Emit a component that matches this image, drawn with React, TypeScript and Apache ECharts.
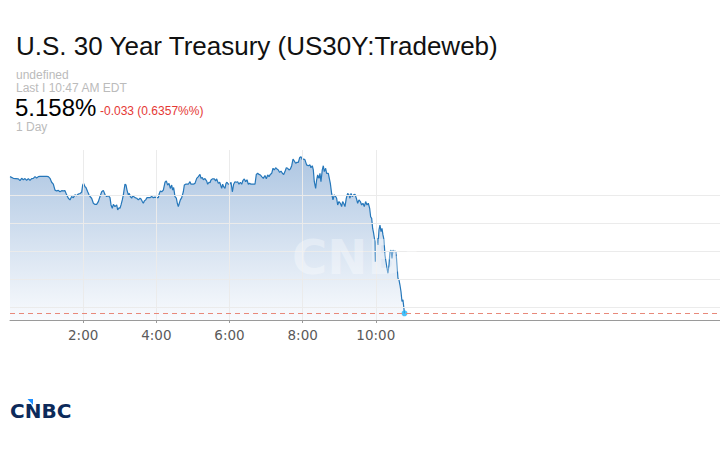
import React, { useEffect, useRef } from "react";
import * as echarts from "echarts";

// minutes since 0:00 (x) and 30Y yield in % (y)
const minutes = [
  0, 5.5, 13.7, 16.4, 19.1, 21.9, 24.6, 27.3, 30.1, 32.8, 35.5, 38.3, 41, 43.7, 46.5, 49.2, 54.7, 60.1, 62.9, 65.6,
  68.3, 71.1, 73.8, 76.5, 79.3, 82, 84.7, 87.5, 90.2, 92.9, 95.7, 98.4, 101.1, 103.9, 106.6, 109.3, 112.1, 114.8, 117.5, 119.2,
  120.8, 123, 124.6, 127.4, 129.6, 131.2, 133.9, 136.7, 139.4, 142.1, 144.9, 147.6, 150.4, 153.1, 155.8, 158.6, 161.3, 164.0, 165.7, 167.8,
  169.5, 172.2, 175.0, 176.6, 178.8, 180.4, 182.1, 184.2, 185.9, 187.5, 188.6, 190.3, 191.9, 194.1, 195.7, 197.4, 199.6, 201.2, 202.8, 205.0,
  207.8, 210.5, 213.2, 214.9, 217.0, 218.7, 220.3, 222.5, 224.7, 226.9, 229.6, 232.4, 235.1, 237.8, 240.6, 243.3, 244.9, 246.6, 248.8, 251.5,
  254.2, 256.4, 258.6, 260.8, 263.0, 265.2, 266.8, 268.4, 270.6, 272.8, 274.4, 276.1, 277.7, 279.4, 281.6, 284.3, 285.9, 288.1, 292.5, 295.2,
  296.9, 300.7, 303.4, 306.2, 308.9, 311.6, 313.3, 315.4, 317.1, 319.8, 322.6, 324.2, 326.4, 328.0, 329.7, 331.9, 335.1, 337.3, 339.0, 341.7,
  343.9, 345.5, 347.2, 348.8, 350.4, 352.6, 354.3, 355.9, 358.1, 360.3, 362.5, 364.7, 366.8, 369.0, 371.2, 373.4, 375.6, 377.8, 380.0, 382.2,
  384.3, 386.5, 388.7, 390.9, 393.1, 395.3, 397.5, 401.8, 404.0, 406.2, 408.4, 410.6, 412.8, 415.5, 418.2, 420.4, 422.6, 424.8, 427.0, 429.2,
  431.4, 433.5, 435.7, 437.9, 440.1, 442.3, 444.5, 446.7, 448.9, 451.0, 453.2, 455.4, 457.6, 459.8, 462.0, 464.2, 466.3, 468.5, 470.7, 472.9,
  475.1, 477.3, 479.5, 481.7, 483.8, 486.5, 489.3, 492.0, 493.6, 495.8, 497.5, 499.1, 501.3, 502.9, 504.6, 506.8, 508.4, 510.0, 512.2, 513.9,
  515.5, 517.7, 519.3, 522.1, 523.7, 525.4, 527.5, 529.7, 531.9, 534.1, 535.7, 537.4, 539.6, 541.8, 543.9, 545.6, 547.2, 549.4, 551.6, 553.8,
  556.0, 557.6, 559.3, 561.4, 563.6, 565.8, 568.0, 570.2, 572.4, 574.6, 576.7, 578.9, 581.1, 583.3, 585.5, 587.7, 589.9, 591.5, 593.2, 594.8,
  596.4, 598.1, 599.2, 600.3, 601.9, 603.6, 605.2, 606.8, 608.5, 610.1, 611.7, 613.4, 615.0, 616.7, 618.3, 619.9, 621.6, 623.2, 624.9, 626.5,
  628.1, 629.8, 631.4, 633.1, 634.7, 636.3, 638.0, 639.6, 641.3, 642.9, 644.5, 647,
];

const yields = [
  5.2068, 5.2062, 5.2060, 5.2054, 5.2062, 5.2057, 5.2061, 5.2055, 5.2061, 5.2055, 5.2061, 5.2062, 5.2068, 5.2063, 5.2068, 5.2069, 5.2069, 5.2069, 5.2068, 5.2062,
  5.2048, 5.2041, 5.2020, 5.2017, 5.2019, 5.2014, 5.2018, 5.2017, 5.2018, 5.2003, 5.1991, 5.1985, 5.1997, 5.1993, 5.2003, 5.2000, 5.2006, 5.2008, 5.2012, 5.2038,
  5.2044, 5.2032, 5.2029, 5.2014, 5.2003, 5.1997, 5.1991, 5.1973, 5.1969, 5.1969, 5.1979, 5.1997, 5.2014, 5.2019, 5.2004, 5.1997, 5.2000, 5.1993, 5.1967, 5.1955,
  5.1969, 5.1961, 5.1967, 5.1949, 5.1957, 5.1955, 5.1967, 5.1985, 5.2003, 5.2026, 5.2041, 5.2038, 5.2020, 5.2003, 5.2008, 5.1997, 5.1991, 5.2000, 5.1997, 5.1993,
  5.1991, 5.1985, 5.1991, 5.1988, 5.1979, 5.1973, 5.1981, 5.1985, 5.1993, 5.1993, 5.1993, 5.1997, 5.1993, 5.1995, 5.1993, 5.1993, 5.2008, 5.2017, 5.2014, 5.2020,
  5.2048, 5.2053, 5.2038, 5.2044, 5.2026, 5.2038, 5.2020, 5.2029, 5.1997, 5.1991, 5.1973, 5.1961, 5.1973, 5.1985, 5.1993, 5.2014, 5.2038, 5.2041, 5.2041, 5.2050,
  5.2041, 5.2041, 5.2044, 5.2062, 5.2068, 5.2076, 5.2062, 5.2065, 5.2057, 5.2061, 5.2052, 5.2041, 5.2048, 5.2046, 5.2056, 5.2060, 5.2060, 5.2053, 5.2060, 5.2044,
  5.2048, 5.2038, 5.2026, 5.2041, 5.2032, 5.2026, 5.2044, 5.2048, 5.2041, 5.2041, 5.2048, 5.2014, 5.2041, 5.2050, 5.2048, 5.2050, 5.2041, 5.2048, 5.2041, 5.2055,
  5.2060, 5.2050, 5.2057, 5.2041, 5.2044, 5.2041, 5.2041, 5.2041, 5.2076, 5.2080, 5.2076, 5.2074, 5.2068, 5.2062, 5.2072, 5.2060, 5.2074, 5.2068, 5.2076, 5.2080,
  5.2098, 5.2092, 5.2100, 5.2095, 5.2092, 5.2083, 5.2088, 5.2080, 5.2076, 5.2086, 5.2100, 5.2098, 5.2092, 5.2095, 5.2107, 5.2131, 5.2124, 5.2116, 5.2119, 5.2119,
  5.2136, 5.2139, 5.2128, 5.2131, 5.2128, 5.2110, 5.2107, 5.2110, 5.2100, 5.2107, 5.2092, 5.2050, 5.2026, 5.2056, 5.2074, 5.2062, 5.2080, 5.2050, 5.2092, 5.2107,
  5.2086, 5.2098, 5.2080, 5.2080, 5.2062, 5.2044, 5.2008, 5.1985, 5.2003, 5.1997, 5.1991, 5.1967, 5.1979, 5.1973, 5.1961, 5.1979, 5.1973, 5.1961, 5.1991, 5.2008,
  5.2003, 5.1991, 5.2008, 5.1997, 5.2003, 5.2005, 5.1991, 5.1973, 5.1985, 5.1979, 5.1967, 5.1973, 5.1961, 5.1979, 5.1967, 5.1973, 5.1955, 5.1925, 5.1919, 5.1883,
  5.1866, 5.1842, 5.1764, 5.1836, 5.1848, 5.1824, 5.1878, 5.1895, 5.1872, 5.1883, 5.1860, 5.1842, 5.1788, 5.1764, 5.1741, 5.1723, 5.1753, 5.1800, 5.1806, 5.1776,
  5.1806, 5.1800, 5.1803, 5.1800, 5.1753, 5.1705, 5.1699, 5.1681, 5.1657, 5.1622, 5.1628, 5.158,
];

const tickMinutes = [120, 240, 360, 480, 600];
const tickLabels = ["2:00", "4:00", "6:00", "8:00", "10:00"];
const gridValues = [5.16, 5.17, 5.18, 5.19, 5.2];

const titleText = "U.S. 30 Year Treasury (US30Y:Tradeweb)";
const subText1 = "undefined";
const subText2 = "Last I 10:47 AM EDT";
const priceText = "5.158%";
const changeText = "-0.033 (0.6357%%)";
const rangeText = "1 Day";

export default function App() {
  const ref = useRef<HTMLDivElement>(null);

  useEffect(() => {
    if (!ref.current) return;
    const chart = echarts.init(ref.current, null, { renderer: "svg" });
    const points = minutes.map((m, i) => [m, yields[i]]);
    const last = points[points.length - 1];
    const font = '"Liberation Sans", Arial, Helvetica, sans-serif';

    chart.setOption({
      animation: false,
      backgroundColor: "#ffffff",
      grid: { left: 10, right: 0, top: 150, bottom: 130, containLabel: false },
      xAxis: {
        type: "value",
        min: 0,
        max: 1164.5,
        axisLine: { show: true, lineStyle: { color: "#9a9a9a", width: 1 } },
        axisTick: {
          show: true,
          customValues: tickMinutes,
          length: 3,
          lineStyle: { color: "#9a9a9a" },
        },
        axisLabel: {
          show: true,
          customValues: tickMinutes,
          formatter: (v: number) => tickLabels[tickMinutes.indexOf(v)] ?? "",
          color: "#5a5a5a",
          fontSize: 13.5,
          fontFamily: "DejaVu Sans",
          margin: 8,
        },
        splitLine: { show: false },
      },
      yAxis: {
        type: "value",
        min: 5.15561,
        max: 5.21632,
        show: false,
        splitLine: { show: false },
      },
      series: [
        {
          type: "line",
          z: 1,
          data: points,
          showSymbol: false,
          lineStyle: { opacity: 0 },
          silent: true,
          markLine: {
            silent: true,
            precision: 4,
            symbol: ["none", "none"],
            label: { show: false },
            emphasis: { disabled: true },
            data: [
              ...gridValues.map((v) => ({ yAxis: v, lineStyle: { color: "#ebebeb", width: 1, type: "solid" } })),
              ...tickMinutes.map((m) => ({ xAxis: m, lineStyle: { color: "#ebebeb", width: 1, type: "solid" } })),
              { yAxis: last[1], lineStyle: { color: "#e8897a", width: 1, type: [5, 4] } },
            ],
          },
        },
        {
          type: "line",
          z: 2,
          data: points,
          showSymbol: false,
          symbol: "none",
          lineStyle: { color: "#2577ba", width: 1.2 },
          areaStyle: {
            opacity: 0.9,
            color: new echarts.graphic.LinearGradient(0, 0, 0, 1, [
              { offset: 0, color: "#a5c0df" },
              { offset: 1, color: "#f8fafd" },
            ]),
          },
          silent: true,
        },
        {
          type: "scatter",
          z: 3,
          data: [last],
          symbolSize: 6,
          itemStyle: { color: "#1fb2f5" },
          silent: true,
        },
      ],
      graphic: [
        {
          type: "text",
          x: 292,
          y: 257,
          z: 50,
          silent: true,
          style: {
            text: "CNBC",
            font: 'bold 48px "DejaVu Sans"',
            fill: "rgba(255,255,255,0.35)",
            verticalAlign: "middle",
            align: "left",
          },
        },
        {
          type: "text",
          x: 16,
          y: 46,
          style: { text: titleText, font: `26px ${font}`, fill: "#111111", verticalAlign: "middle", align: "left" },
        },
        {
          type: "text",
          x: 16,
          y: 75.3,
          style: { text: subText1, font: `12px ${font}`, fill: "#bbbbbb", verticalAlign: "middle", align: "left" },
        },
        {
          type: "text",
          x: 16,
          y: 88.3,
          style: { text: subText2, font: `12px ${font}`, fill: "#bbbbbb", verticalAlign: "middle", align: "left" },
        },
        {
          type: "text",
          x: 15,
          y: 107,
          style: { text: priceText, font: `24px ${font}`, fill: "#000000", verticalAlign: "middle", align: "left" },
        },
        {
          type: "text",
          x: 100,
          y: 111,
          style: { text: changeText, font: `12px ${font}`, fill: "#e53935", verticalAlign: "middle", align: "left" },
        },
        {
          type: "text",
          x: 16,
          y: 127,
          style: { text: rangeText, font: `12px ${font}`, fill: "#bbbbbb", verticalAlign: "middle", align: "left" },
        },
        {
          type: "text",
          x: 10,
          y: 411,
          style: { text: "CNBC", font: 'bold 20px "DejaVu Sans"', fill: "#0c2a5a", verticalAlign: "middle", align: "left" },
        },
        {
          type: "polygon",
          shape: { points: [[27.5, 399], [33, 399], [33, 405]] },
          style: { fill: "#1e8fff" },
          z: 60,
        },
      ],
    });

    return () => chart.dispose();
  }, []);

  return (
    <div
      ref={ref}
      style={{ position: "absolute", left: 0, top: 0, width: 720, height: 450, background: "#fff" }}
    />
  );
}
